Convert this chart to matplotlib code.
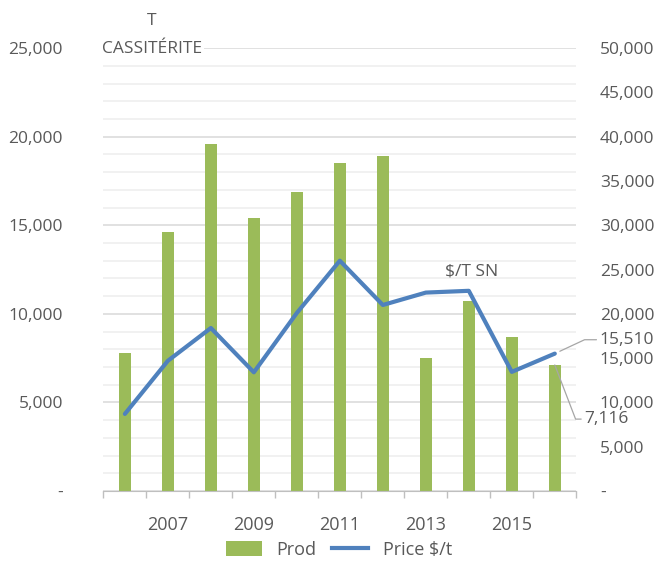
import numpy as np
import matplotlib
matplotlib.use("Agg")
import matplotlib.pyplot as plt
from matplotlib.ticker import MultipleLocator, FuncFormatter
from matplotlib.patches import Patch
from matplotlib.lines import Line2D

plt.rcParams["font.family"] = ["Open Sans", "DejaVu Sans"]

# data
years = [2006, 2007, 2008, 2009, 2010, 2011, 2012, 2013, 2014, 2015, 2016]
prod = [7800, 14600, 19600, 15400, 16900, 18500, 18900, 7500, 10700, 8700, 7116]
price = [8700, 14700, 18400, 13400, 20100, 26000, 21000, 22400, 22600, 13450, 15510]
year_labels = [str(y) if y % 2 == 1 else "" for y in years]

GREEN = "#9BBB59"
BLUE = "#4F81BD"
TXT = "#595959"
GRID_MAJ = "#D9D9D9"
GRID_MIN = "#EEEEEE"


def fmt(v, _pos=None):
    return "-" if v == 0 else f"{v:,.0f}"


fig = plt.figure(figsize=(6.67, 5.66), dpi=100)
ax = fig.add_axes([0.155, 0.1325, 0.709, 0.7825])
ax2 = ax.twinx()

x = np.arange(len(years))
ax.bar(x, prod, width=0.27, color=GREEN, zorder=2)
ax2.plot(x, price, color=BLUE, lw=3, solid_capstyle="round", solid_joinstyle="round")

# left axis
ax.set_xlim(-0.5, len(years) - 0.5)
ax.set_ylim(0, 25000)
ax.yaxis.set_major_locator(MultipleLocator(5000))
ax.yaxis.set_minor_locator(MultipleLocator(1000))
ax.yaxis.set_major_formatter(FuncFormatter(fmt))
ax.grid(axis="y", which="major", color=GRID_MAJ, lw=1.1)
ax.grid(axis="y", which="minor", color=GRID_MIN, lw=1.1)
ax.set_axisbelow(True)
ax.tick_params(axis="y", which="both", length=0, pad=29, labelsize=12.5, labelcolor=TXT)

# x axis: labels every other year, ticks between categories
ax.set_xticks(x)
ax.set_xticklabels(year_labels)
ax.set_xticks(np.arange(-0.5, len(years)), minor=True)
ax.tick_params(axis="x", which="major", length=0, pad=18, labelsize=13, labelcolor=TXT)
ax.tick_params(axis="x", which="minor", length=5, width=1, color="#BFBFBF", direction="out")

# right axis
ax2.set_ylim(0, 50000)
ax2.yaxis.set_major_locator(MultipleLocator(5000))
ax2.yaxis.set_major_formatter(FuncFormatter(fmt))
ax2.tick_params(axis="y", length=0, pad=17, labelsize=12.5, labelcolor=TXT)
for lbl in ax2.get_yticklabels():
    lbl.set_horizontalalignment("left")

for a in (ax, ax2):
    for s in ("top", "left", "right"):
        a.spines[s].set_visible(False)
    a.spines["bottom"].set_color("#BFBFBF")
ax2.spines["bottom"].set_visible(False)

# axis titles / annotations
fig.text(0.228, 0.938, "T\nCASSITÉRITE", ha="center", va="center", fontsize=12.5,
         color=TXT, linespacing=2.0,
         bbox=dict(facecolor="white", edgecolor="none", pad=1))
ax2.text(8.07, 24800, "$/T SN", ha="center", va="center", fontsize=12.5, color=TXT)

ax2.annotate(f"{price[-1]:,}", xy=(x[-1], price[-1]), xytext=(32, 10),
             textcoords="offset points", ha="left", va="center", fontsize=12.5, color=TXT,
             arrowprops=dict(arrowstyle="-", color="#A6A6A6", lw=0.9, relpos=(0, 0.5),
                             shrinkA=0, shrinkB=4,
                             connectionstyle="angle,angleA=0,angleB=25,rad=0"))
ax.annotate(f"{prod[-1]:,}", xy=(x[-1], prod[-1]), xytext=(21, -39),
            textcoords="offset points", ha="left", va="center", fontsize=12.5, color=TXT,
            arrowprops=dict(arrowstyle="-", color="#A6A6A6", lw=0.9, relpos=(0, 0.5),
                            shrinkA=0, shrinkB=0,
                            connectionstyle="angle,angleA=0,angleB=-69,rad=0"))

handles = [Patch(facecolor=GREEN, edgecolor="none"), Line2D([], [], color=BLUE, lw=3)]
leg = fig.legend(handles, ["Prod", "Price $/t"], loc="center", bbox_to_anchor=(0.508, 0.028),
                 ncol=2, frameon=False, fontsize=13, handlelength=2.0, handleheight=0.9,
                 columnspacing=0.9, handletextpad=0.8)
for t in leg.get_texts():
    t.set_color(TXT)

fig.savefig("out.png", dpi=100)
